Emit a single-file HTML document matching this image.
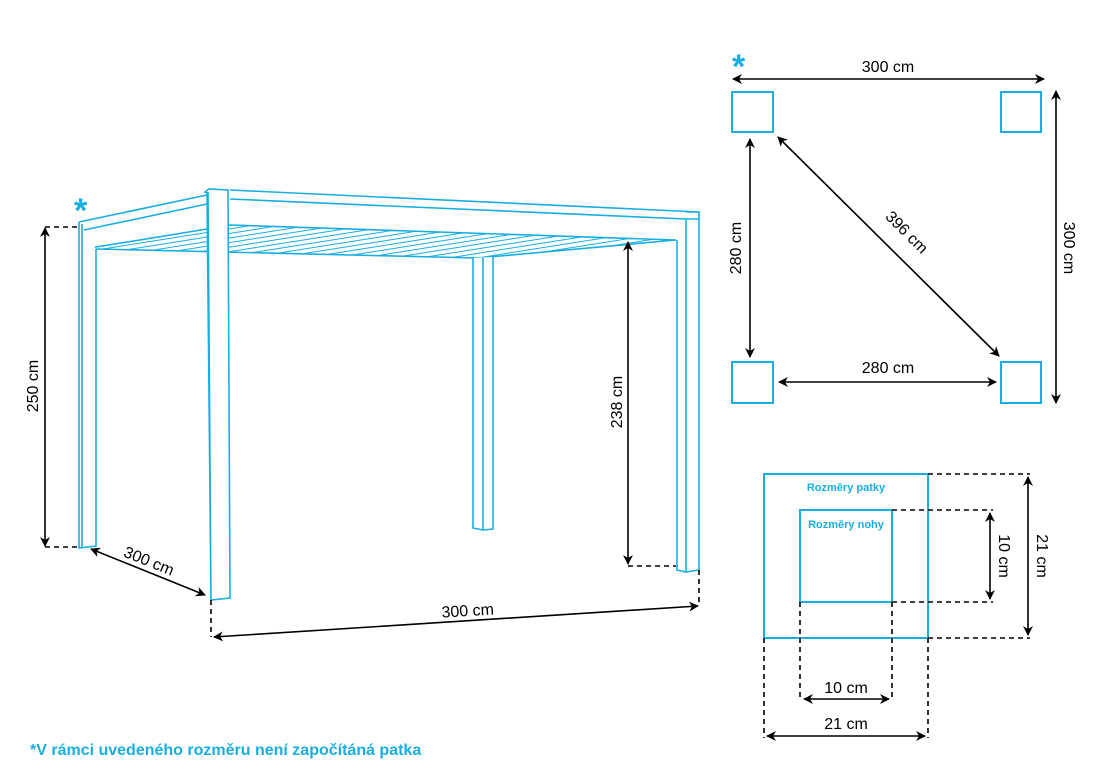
<!DOCTYPE html>
<html><head><meta charset="utf-8"><style>
html,body{margin:0;padding:0;background:#fff;}
svg{display:block;}
text{font-family:"Liberation Sans","DejaVu Sans",sans-serif;}
</style></head><body>
<svg width="1110" height="780" viewBox="0 0 1110 780" xmlns="http://www.w3.org/2000/svg">
<defs>
<marker id="a" viewBox="0 0 10 10" refX="9" refY="5" markerWidth="10" markerHeight="10" orient="auto-start-reverse" markerUnits="userSpaceOnUse">
<path d="M0,0 L10,5 L0,10 L3,5 z" fill="#000"/>
</marker>
<pattern id="sl" width="40" height="4.5" patternUnits="userSpaceOnUse" patternTransform="rotate(-9)">
<line x1="0" y1="1" x2="40" y2="1" stroke="#1aaee0" stroke-width="1.1"/>
</pattern>
</defs>
<g fill="none" stroke="#1aaee0" stroke-width="1.6">
<!-- slats -->
<polygon points="84,249 207,229 230,225 676,240 478,258 96,249" fill="url(#sl)"/>
<!-- left side beam -->
<path d="M79,222 L207,195 M84,230 L207,204 M84,229 L84,249"/>
<!-- front beam -->
<path d="M230,190 L699,212 M230,199 L686,219 M686,219 L699,219"/>
<!-- left back post -->
<path d="M79,222 L79,548 L96,546 L96,249 M82,224 L82,548" fill="#fff"/>
<!-- front left post -->
<path d="M205,192 L209,189 L228,190 L230,598 L211,600 L207,193 Z M208,192 L211,600" fill="#fff"/>
<!-- right post -->
<path d="M686,212 L699,212 L699,570 L686,572 L677,570 L677,240 M686,219 L686,572"/>
<!-- middle post -->
<path d="M473,258 L473,528 L483,530 L493,529 L493,257 M483,258 L483,530" fill="#fff"/>
</g>
<text x="74" y="222" font-size="34" font-weight="bold" fill="#1aaee0">*</text>
<g stroke="#000" stroke-width="1.6" fill="none">
<path d="M45,227 L79,227 M45,547 L79,547 M628,566 L676,566 M211,600 L211,637 M699,570 L699,606" stroke-dasharray="5,4"/>
<line x1="45" y1="228" x2="45" y2="546" marker-start="url(#a)" marker-end="url(#a)"/>
<line x1="628" y1="242" x2="628" y2="564" marker-start="url(#a)" marker-end="url(#a)"/>
<line x1="91" y1="549" x2="205" y2="595" marker-start="url(#a)" marker-end="url(#a)"/>
<line x1="214" y1="637" x2="698" y2="606" marker-start="url(#a)" marker-end="url(#a)"/>
</g>
<g font-size="16" fill="#000" text-anchor="middle">
<text transform="translate(38,386) rotate(-90)">250 cm</text>
<text transform="translate(622,402) rotate(-90)">238 cm</text>
<text transform="translate(147,566) rotate(22)">300 cm</text>
<text transform="translate(468,616) rotate(-3.6)">300 cm</text>
</g>
<!-- plan view -->
<g fill="none" stroke="#1aaee0" stroke-width="2">
<rect x="732" y="92" width="41" height="40"/>
<rect x="1001" y="92" width="40" height="40"/>
<rect x="732" y="362" width="41" height="41"/>
<rect x="1001" y="362" width="40" height="41"/>
</g>
<text x="732" y="78" font-size="34" font-weight="bold" fill="#1aaee0">*</text>
<g stroke="#000" stroke-width="1.6" fill="none">
<line x1="733" y1="79" x2="1044" y2="79" marker-start="url(#a)" marker-end="url(#a)"/>
<line x1="1056" y1="91" x2="1056" y2="403" marker-start="url(#a)" marker-end="url(#a)"/>
<line x1="750" y1="139" x2="750" y2="357" marker-start="url(#a)" marker-end="url(#a)"/>
<line x1="779" y1="382" x2="996" y2="382" marker-start="url(#a)" marker-end="url(#a)"/>
<line x1="778" y1="137" x2="999" y2="356" marker-start="url(#a)" marker-end="url(#a)"/>
</g>
<g font-size="16" fill="#000" text-anchor="middle">
<text x="888" y="72">300 cm</text>
<text x="888" y="373">280 cm</text>
<text transform="translate(741,248) rotate(-90)">280 cm</text>
<text transform="translate(1064,248) rotate(90)">300 cm</text>
<text transform="translate(903,236) rotate(45)">396 cm</text>
</g>
<!-- detail -->
<g fill="none" stroke="#1aaee0" stroke-width="2">
<rect x="764" y="474" width="164" height="164"/>
<rect x="800" y="510" width="92" height="92"/>
</g>
<g font-size="11" font-weight="bold" fill="#1aaee0" text-anchor="middle">
<text x="846" y="491">Rozměry patky</text>
<text x="846" y="528">Rozměry nohy</text>
</g>
<g stroke="#000" stroke-width="1.6" fill="none">
<path d="M928,474 L1030,474 M928,638 L1030,638 M892,510 L993,510 M892,602 L993,602 M764,638 L764,738 M928,638 L928,738 M800,602 L800,700 M892,602 L892,700" stroke-dasharray="5,4"/>
<line x1="1028" y1="477" x2="1028" y2="635" marker-start="url(#a)" marker-end="url(#a)"/>
<line x1="990" y1="513" x2="990" y2="599" marker-start="url(#a)" marker-end="url(#a)"/>
<line x1="804" y1="699" x2="889" y2="699" marker-start="url(#a)" marker-end="url(#a)"/>
<line x1="767" y1="736" x2="925" y2="736" marker-start="url(#a)" marker-end="url(#a)"/>
</g>
<g font-size="16" fill="#000" text-anchor="middle">
<text x="846" y="693">10 cm</text>
<text x="846" y="729">21 cm</text>
<text transform="translate(999,556) rotate(90)">10 cm</text>
<text transform="translate(1037,556) rotate(90)">21 cm</text>
</g>
<text x="30" y="755" font-size="16" font-weight="bold" fill="#1aaee0">*V rámci uvedeného rozměru není započítáná patka</text>
</svg>
</body></html>
